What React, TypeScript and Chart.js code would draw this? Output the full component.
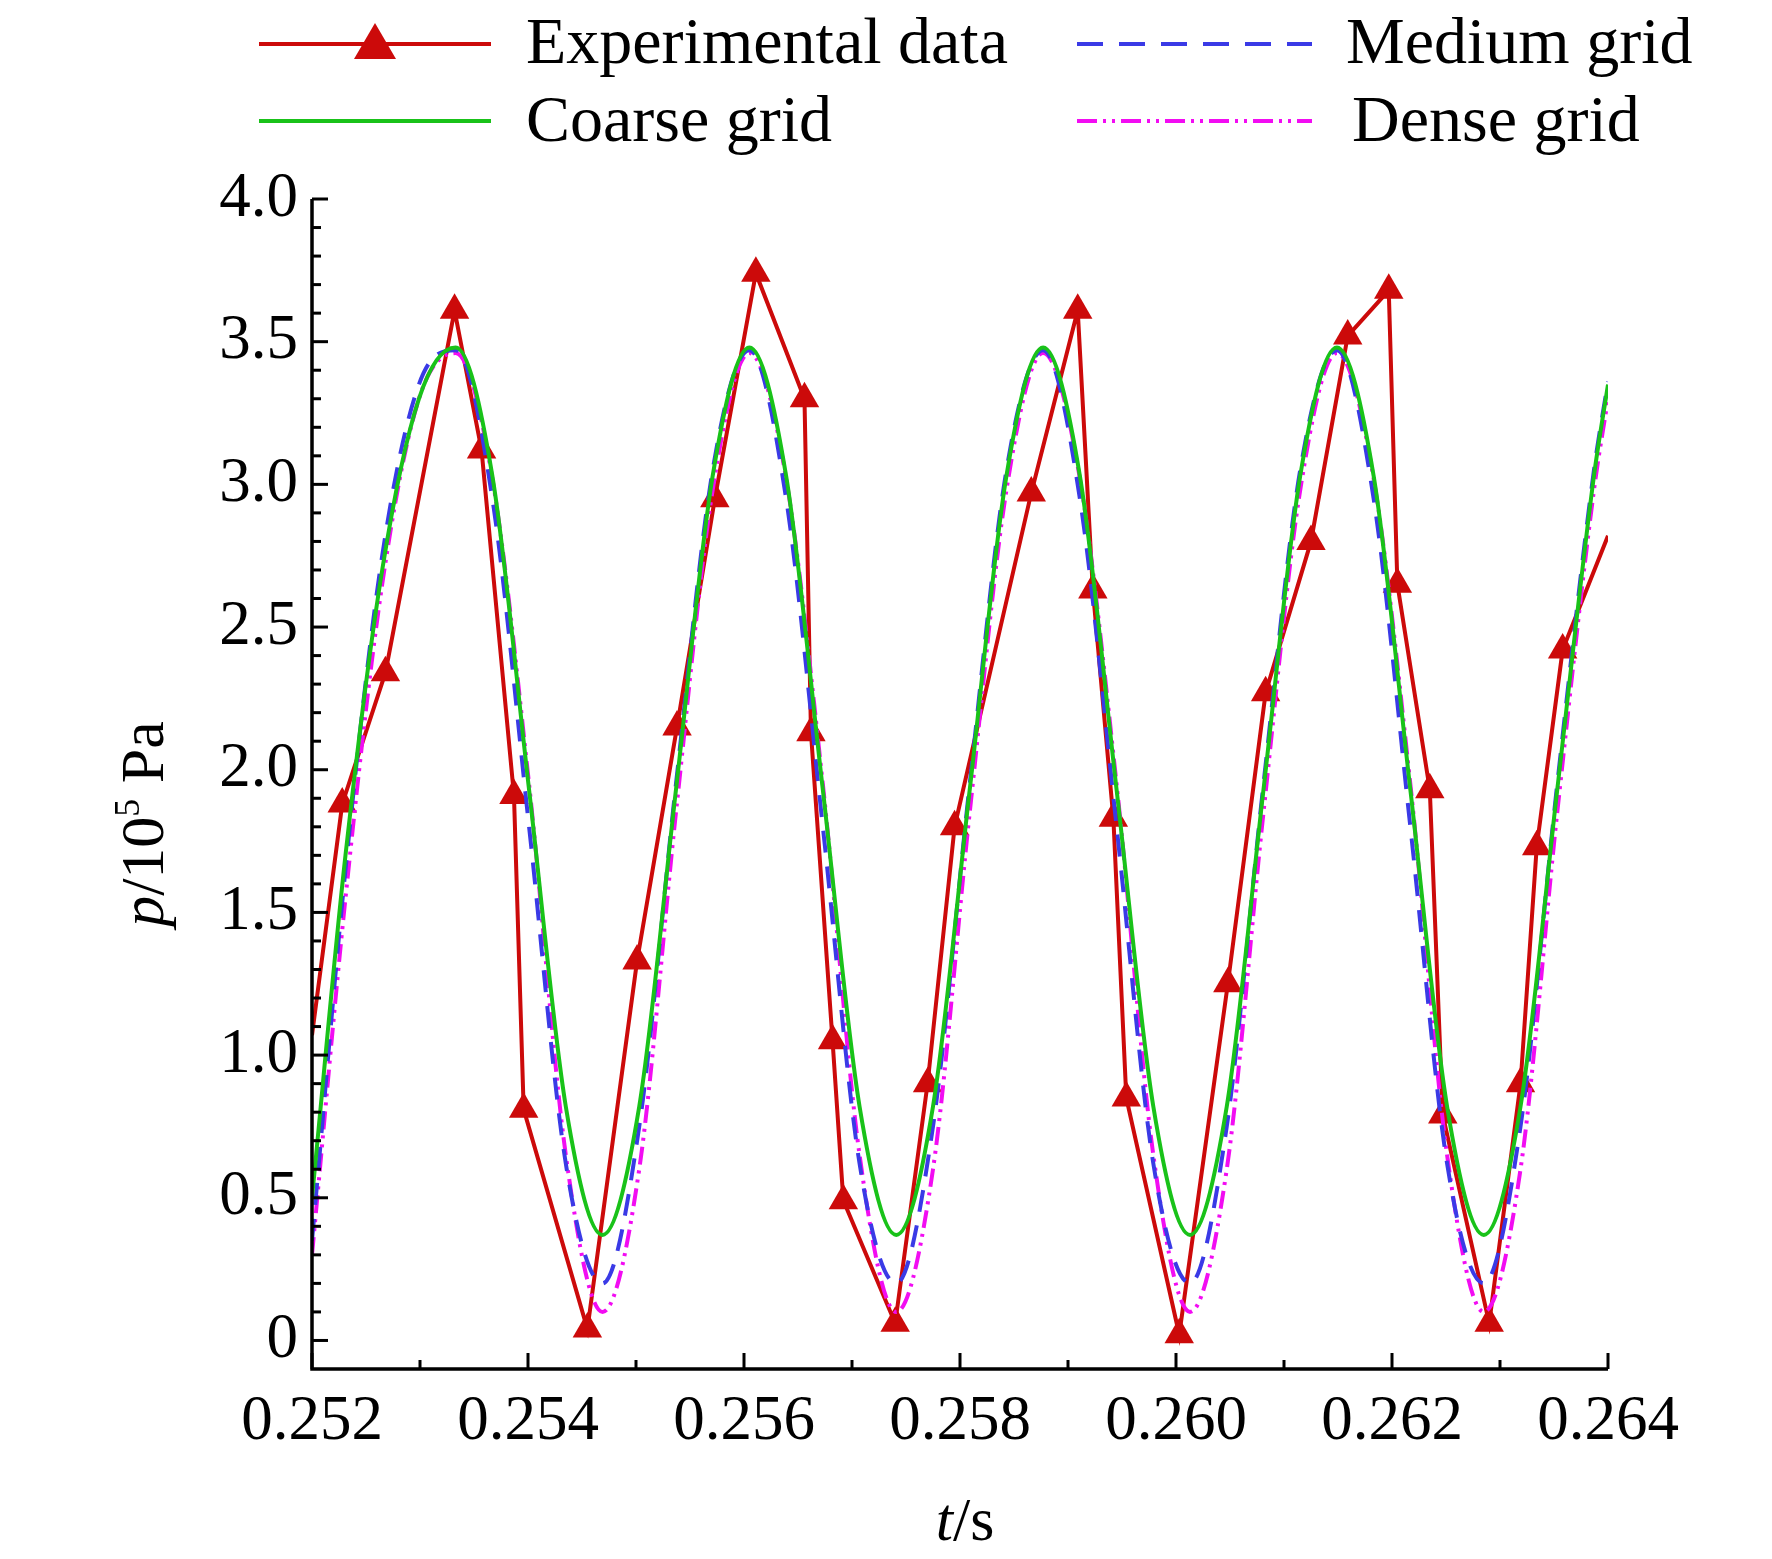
import React, { useEffect, useRef } from "react";
import { Chart, registerables } from "chart.js";
Chart.register(...registerables);

const EXP_T = [0.252,0.25228,0.25268,0.25332,0.25357,0.25387,0.25396,0.25455,0.25501,0.25538,0.25573,0.25611,0.25656,0.25662,0.25682,0.25692,0.2574,0.2577,0.25795,0.25866,0.25909,0.25923,0.25942,0.25954,0.26003,0.26048,0.26083,0.26125,0.26159,0.26197,0.26205,0.26235,0.26247,0.2629,0.26319,0.26334,0.26358,0.264];
const EXP_P = [1.07,1.88,2.34,3.61,3.12,1.91,0.81,0.04,1.33,2.15,2.95,3.74,3.3,2.13,1.05,0.49,0.06,0.9,1.8,2.97,3.61,2.63,1.83,0.85,0.02,1.25,2.27,2.8,3.52,3.68,2.65,1.93,0.79,0.06,0.9,1.73,2.42,2.82];
const SIM_T = [0.252,0.25231,0.25265,0.25299,0.25333,0.25367,0.25401,0.25435,0.25469,0.25503,0.25537,0.25571,0.25605,0.25639,0.25673,0.25707,0.25741,0.25775,0.25809,0.25843,0.25877,0.25911,0.25945,0.25979,0.26013,0.26047,0.26081,0.26115,0.26149,0.26183,0.26217,0.26251,0.26285,0.26319,0.26353,0.26387,0.264];
const COARSE = [0.5,1.7,2.7,3.3,3.48,3.03,1.93,0.82,0.37,0.82,1.93,3.03,3.48,3.03,1.93,0.82,0.37,0.82,1.93,3.03,3.48,3.03,1.93,0.82,0.37,0.82,1.93,3.03,3.48,3.03,1.93,0.82,0.37,0.82,1.93,3.03,3.35];
const MEDIUM = [0.35,1.65,2.75,3.35,3.47,2.95,1.8,0.62,0.2,0.75,1.95,3.05,3.47,2.95,1.8,0.62,0.2,0.75,1.95,3.05,3.47,2.95,1.8,0.62,0.2,0.75,1.95,3.05,3.47,2.95,1.8,0.62,0.2,0.75,1.95,3.05,3.36];
const DENSE = [0.3,1.55,2.65,3.3,3.46,3.02,1.95,0.65,0.1,0.6,1.85,2.98,3.46,3.02,1.95,0.65,0.1,0.6,1.85,2.98,3.46,3.02,1.95,0.65,0.1,0.6,1.85,2.98,3.46,3.02,1.95,0.65,0.1,0.6,1.85,2.98,3.3];
const X_TICKS = [0.252,0.254,0.256,0.258,0.26,0.262,0.264];
const Y_TICKS = [0,0.5,1,1.5,2,2.5,3,3.5,4];

const RED = "#cc0a0a", GREEN = "#19c219", BLUE = "#3a3ae6", MAG = "#f20cf2";
const FONT = "'Liberation Serif', 'Times New Roman', serif";

const pts = (t: number[], v: number[]) => t.map((x, i) => ({ x, y: v[i] }));

const axesPlugin = {
  id: "axesPlugin",
  afterDraw(chart: any) {
    const { ctx, chartArea: a, scales } = chart;
    const xs = scales.x, ys = scales.y;
    ctx.save();
    ctx.strokeStyle = "#000";
    ctx.lineWidth = 3.5;
    const axY = ys.getPixelForValue(-0.1);
    ctx.beginPath();
    ctx.moveTo(a.left, ys.getPixelForValue(4));
    ctx.lineTo(a.left, axY);
    ctx.lineTo(a.right, axY);
    ctx.stroke();
    ctx.lineWidth = 3;
    for (let i = 0; i <= 40; i++) {
      const v = i * 0.1;
      const y = ys.getPixelForValue(v);
      const len = i % 5 === 0 ? 16 : 9;
      ctx.beginPath(); ctx.moveTo(a.left, y); ctx.lineTo(a.left + len, y); ctx.stroke();
    }
    for (let i = 0; i <= 12; i++) {
      const v = 0.252 + i * 0.001;
      const x = xs.getPixelForValue(v);
      const len = i % 2 === 0 ? 16 : 9;
      ctx.beginPath(); ctx.moveTo(x, axY); ctx.lineTo(x, axY - len); ctx.stroke();
    }
    ctx.fillStyle = "#000";
    ctx.textBaseline = "alphabetic";
    const fs = 62;
    ctx.font = `italic ${fs}px ${FONT}`;
    const w1 = ctx.measureText("t").width;
    ctx.font = `${fs}px ${FONT}`;
    const w2 = ctx.measureText("/s").width;
    let sx = 965 - (w1 + w2) / 2;
    ctx.font = `italic ${fs}px ${FONT}`; ctx.fillText("t", sx, 1540);
    ctx.font = `${fs}px ${FONT}`; ctx.fillText("/s", sx + w1, 1540);
    ctx.translate(163, 824);
    ctx.rotate(-Math.PI / 2);
    const parts: [string, string, number][] = [["p", "italic", 0], ["/10", "", 0], ["5", "", -1], [" Pa", "", 0]];
    let tot = 0;
    const ws = parts.map(([s, st, sup]) => {
      ctx.font = `${st} ${sup ? 36 : fs}px ${FONT}`;
      const w = ctx.measureText(s).width; tot += w; return w;
    });
    let px = -tot / 2;
    parts.forEach(([s, st, sup], i) => {
      ctx.font = `${st} ${sup ? 36 : fs}px ${FONT}`;
      ctx.fillText(s, px, sup ? -24 : 0);
      px += ws[i];
    });
    ctx.restore();
  },
};

function Legend() {
  const txt: React.CSSProperties = { position: "absolute", fontFamily: FONT, fontSize: 66, lineHeight: "66px", color: "#000", whiteSpace: "nowrap" };
  return (
    <>
      <svg width={1772} height={160} style={{ position: "absolute", left: 0, top: 0 }}>
        <line x1={259} y1={44} x2={491} y2={44} stroke={RED} strokeWidth={4} />
        <polygon points="375,23 396,59 354,59" fill={RED} />
        <line x1={259} y1={121} x2={491} y2={121} stroke={GREEN} strokeWidth={4} />
        <line x1={1077} y1={44} x2={1312} y2={44} stroke={BLUE} strokeWidth={4} strokeDasharray="26 16" />
        <line x1={1077} y1={121} x2={1312} y2={121} stroke={MAG} strokeWidth={4} strokeDasharray="20 6 3 6 3 6" />
      </svg>
      <div style={{ ...txt, left: 526, top: 8 }}>Experimental data</div>
      <div style={{ ...txt, left: 526, top: 86 }}>Coarse grid</div>
      <div style={{ ...txt, left: 1346, top: 8 }}>Medium grid</div>
      <div style={{ ...txt, left: 1352, top: 86 }}>Dense grid</div>
    </>
  );
}

export default function App() {
  const ref = useRef<HTMLCanvasElement>(null);
  useEffect(() => {
    const line = (label: string, data: any, color: string, dash: number[]) => ({
      label, data, borderColor: color, backgroundColor: color, borderWidth: 4, borderDash: dash,
      pointRadius: 0, cubicInterpolationMode: "monotone" as const, fill: false,
    });
    const chart = new Chart(ref.current!, {
      type: "line",
      data: {
        datasets: [
          line("Coarse grid", pts(SIM_T, COARSE), GREEN, []),
          line("Medium grid", pts(SIM_T, MEDIUM), BLUE, [22, 14]),
          line("Dense grid", pts(SIM_T, DENSE), MAG, [18, 6, 3, 6, 3, 6]),
          {
            label: "Experimental data", data: pts(EXP_T, EXP_P), borderColor: RED, backgroundColor: RED,
            borderWidth: 4, tension: 0, pointStyle: "triangle",
            pointRadius: EXP_T.map((_, i) => (i === 0 || i === EXP_T.length - 1 ? 0 : 17)), pointBorderWidth: 0,
          } as any,
        ],
      },
      options: {
        animation: false, responsive: false,
        layout: { padding: { left: 0, right: 164, top: 199, bottom: 0 } },
        plugins: { legend: { display: false }, tooltip: { enabled: false } },
        scales: {
          x: {
            type: "linear", min: 0.252, max: 0.264,
            afterBuildTicks: (s: any) => { s.ticks = X_TICKS.map((v) => ({ value: v })); },
            afterFit: (s: any) => { s.height = 190; },
            grid: { display: false, drawTicks: false }, border: { display: false },
            ticks: { color: "#000", font: { family: FONT, size: 63 }, padding: 16, maxRotation: 0, callback: (v: any) => Number(v).toFixed(3) },
          },
          y: {
            type: "linear", min: -0.1, max: 4,
            afterBuildTicks: (s: any) => { s.ticks = Y_TICKS.map((v) => ({ value: v })); },
            afterFit: (s: any) => { s.width = 312; },
            grid: { display: false, drawTicks: false }, border: { display: false },
            ticks: { color: "#000", font: { family: FONT, size: 63 }, padding: 14, callback: (v: any) => (v === 0 ? "0" : Number(v).toFixed(1)) },
          },
        },
      },
      plugins: [axesPlugin],
    });
    return () => chart.destroy();
  }, []);
  return (
    <div style={{ position: "absolute", left: 0, top: 0, width: 1772, height: 1559, background: "#fff" }}>
      <canvas ref={ref} width={1772} height={1559} style={{ position: "absolute", left: 0, top: 0 }} />
      <Legend />
    </div>
  );
}
